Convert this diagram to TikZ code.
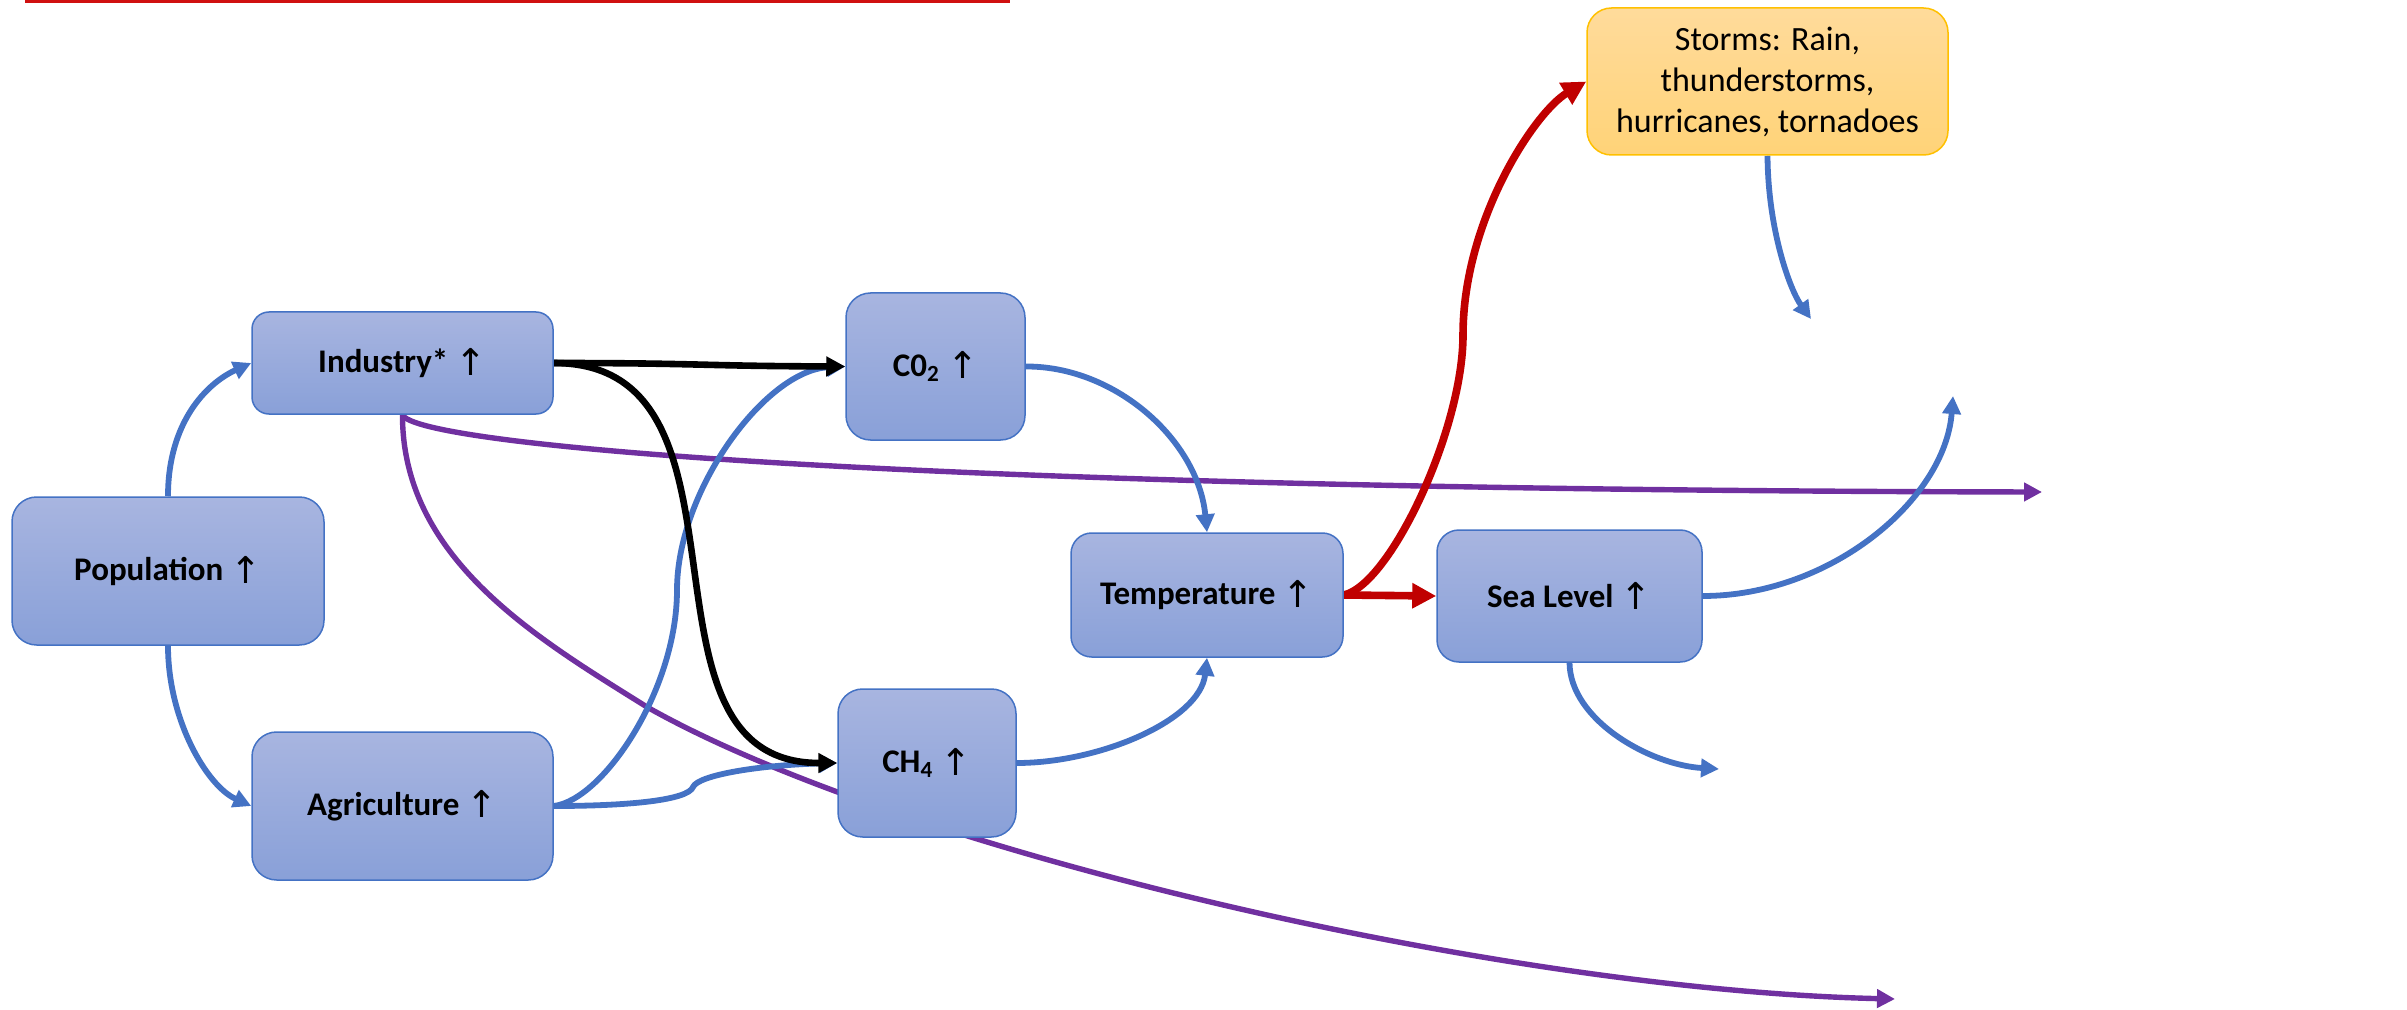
\documentclass[tikz,border=0pt]{standalone}
\usepackage{fontspec}
\setmainfont{Carlito}
\newfontfamily\arrowglyphfont{DejaVu Sans}
\usetikzlibrary{arrows.meta}
\pgfdeclarelayer{background}
\pgfsetlayers{background,main}

\definecolor{boxtop}{RGB}{168,181,224}
\definecolor{boxbot}{RGB}{137,160,216}
\definecolor{boxline}{RGB}{68,114,196}
\definecolor{stormtop}{RGB}{255,219,155}
\definecolor{stormbot}{RGB}{255,211,120}
\definecolor{stormline}{RGB}{255,192,0}
\definecolor{linkblue}{RGB}{68,114,196}
\definecolor{linkpurple}{RGB}{112,48,160}
\definecolor{linkred}{RGB}{192,0,0}
\definecolor{topred}{RGB}{208,16,16}

% upward arrow used after each quantity
\newcommand\uparr{\raisebox{-1.2pt}{\arrowglyphfont\mdseries\fontsize{18.5}{20}\selectfont ↑}}

\begin{document}
\begin{tikzpicture}[x=0.5pt,y=-0.5pt,
  sz/.style 2 args={minimum width=#1*0.5pt, minimum height=#2*0.5pt,
                    rounded corners=#2*0.5pt/6},
  bluebox/.style={draw=boxline, line width=0.75pt, top color=boxtop,
                  bottom color=boxbot, inner sep=0pt, align=center,
                  font=\fontsize{16.5}{20}\selectfont\bfseries},
  stormbox/.style={draw=stormline, line width=0.75pt, top color=stormtop,
                   bottom color=stormbot, inner sep=0pt, align=center,
                   font=\fontsize{17}{20.5}\selectfont},
  blink/.style={draw=linkblue, line width=2.9pt,
                -{Triangle[length=9pt,width=9pt]}},
  plink/.style={draw=linkpurple, line width=2.7pt,
                -{Triangle[length=9pt,width=9pt]}},
  klink/.style={draw=black, line width=3.3pt,
                -{Triangle[length=9.5pt,width=9.5pt]}},
  rlink/.style={draw=linkred, line width=3.8pt,
                -{Triangle[length=12pt,width=12pt]}},
  topline/.style={draw=topred, line width=1.6pt}
]
\useasboundingbox (0,0) rectangle (2407,1010);

% rule across the top
\draw[topline] (25,1.5) -- (1010,1.5);

% quantities
\node[bluebox, sz={312}{148}] (pop)  at (168,571)    {Population \uparr};
\node[bluebox, sz={301}{102}] (ind)  at (402.5,363)  {Industry* \uparr};
\node[bluebox, sz={301}{148}] (agr)  at (402.5,806)  {Agriculture \uparr};
\node[bluebox, sz={179}{147}] (co2)  at (935.5,366.5){C0\textsubscript{2} \uparr};
\node[bluebox, sz={178}{148}] (ch4)  at (927,763)    {CH\textsubscript{4} \uparr};
\node[bluebox, sz={272}{124}] (temp) at (1207,595)   {Temperature \uparr};
\node[bluebox, sz={265}{132}] (sea)  at (1569.5,596) {Sea Level \uparr};
\node[stormbox, sz={361}{147}] (storms) at (1767.5,81.5)
  {Storms: Rain,\\thunderstorms,\\hurricanes, tornadoes};

% open ends of the outgoing arrows
\coordinate (indRight)  at (2042,492);
\coordinate (indLow)    at (1895,999);
\coordinate (seaUp)     at (1953,396);
\coordinate (seaDown)   at (1719,769);
\coordinate (stormDown) at (1811,319);

\begin{pgfonlayer}{background}
  % industry side effects
  \draw[plink] (ind.south) .. controls (415,445) and (900,490) .. (indRight);
  \draw[plink] (ind.south) .. controls (402,560) and (540,640) .. (647,707)
                           .. controls (900,850) and (1500,990) .. (indLow);

  % population drives industry and agriculture
  \draw[blink] (pop.north) .. controls (168,422) and (207,383) .. (ind.west);
  \draw[blink] (pop.south) .. controls (168,720) and (207,786) .. (agr.west);

  % agriculture emissions
  \draw[blink] (agr.east) .. controls (603,800) and (677,690) .. (677,590)
                          .. controls (677,490) and (766,370) .. (co2.west);
  \draw[blink] (agr.east) .. controls (630,806) and (688,800) .. (693,787)
                          .. controls (698,775) and (760,765) .. (ch4.west);

  % greenhouse gases warm the climate
  \draw[blink] (co2.east) .. controls (1115,366) and (1198,440) .. (temp.north);
  \draw[blink] (ch4.east) .. controls (1100,763) and (1200,720) .. (temp.south);

  % consequences
  \draw[blink] (sea.east) .. controls (1830,596) and (1945,500) .. (seaUp);
  \draw[blink] (sea.south) .. controls (1570,720) and (1650,765) .. (seaDown);
  \draw[blink] (storms.south) .. controls (1768,230) and (1790,290) .. (stormDown);

  % industry emissions
  \draw[klink] (ind.east) .. controls (700,363) and (700,366) .. (co2.west);
  \draw[klink] (ind.east) .. controls (773,363) and (618,763) .. (ch4.west);

  % temperature effects
  \draw[rlink] (temp.east) -- (sea.west);
  \draw[rlink] (temp.east) .. controls (1390,585) and (1463,430) .. (1463,335)
                           .. controls (1463,220) and (1535,112) .. (storms.west);
\end{pgfonlayer}
\end{tikzpicture}
\end{document}
